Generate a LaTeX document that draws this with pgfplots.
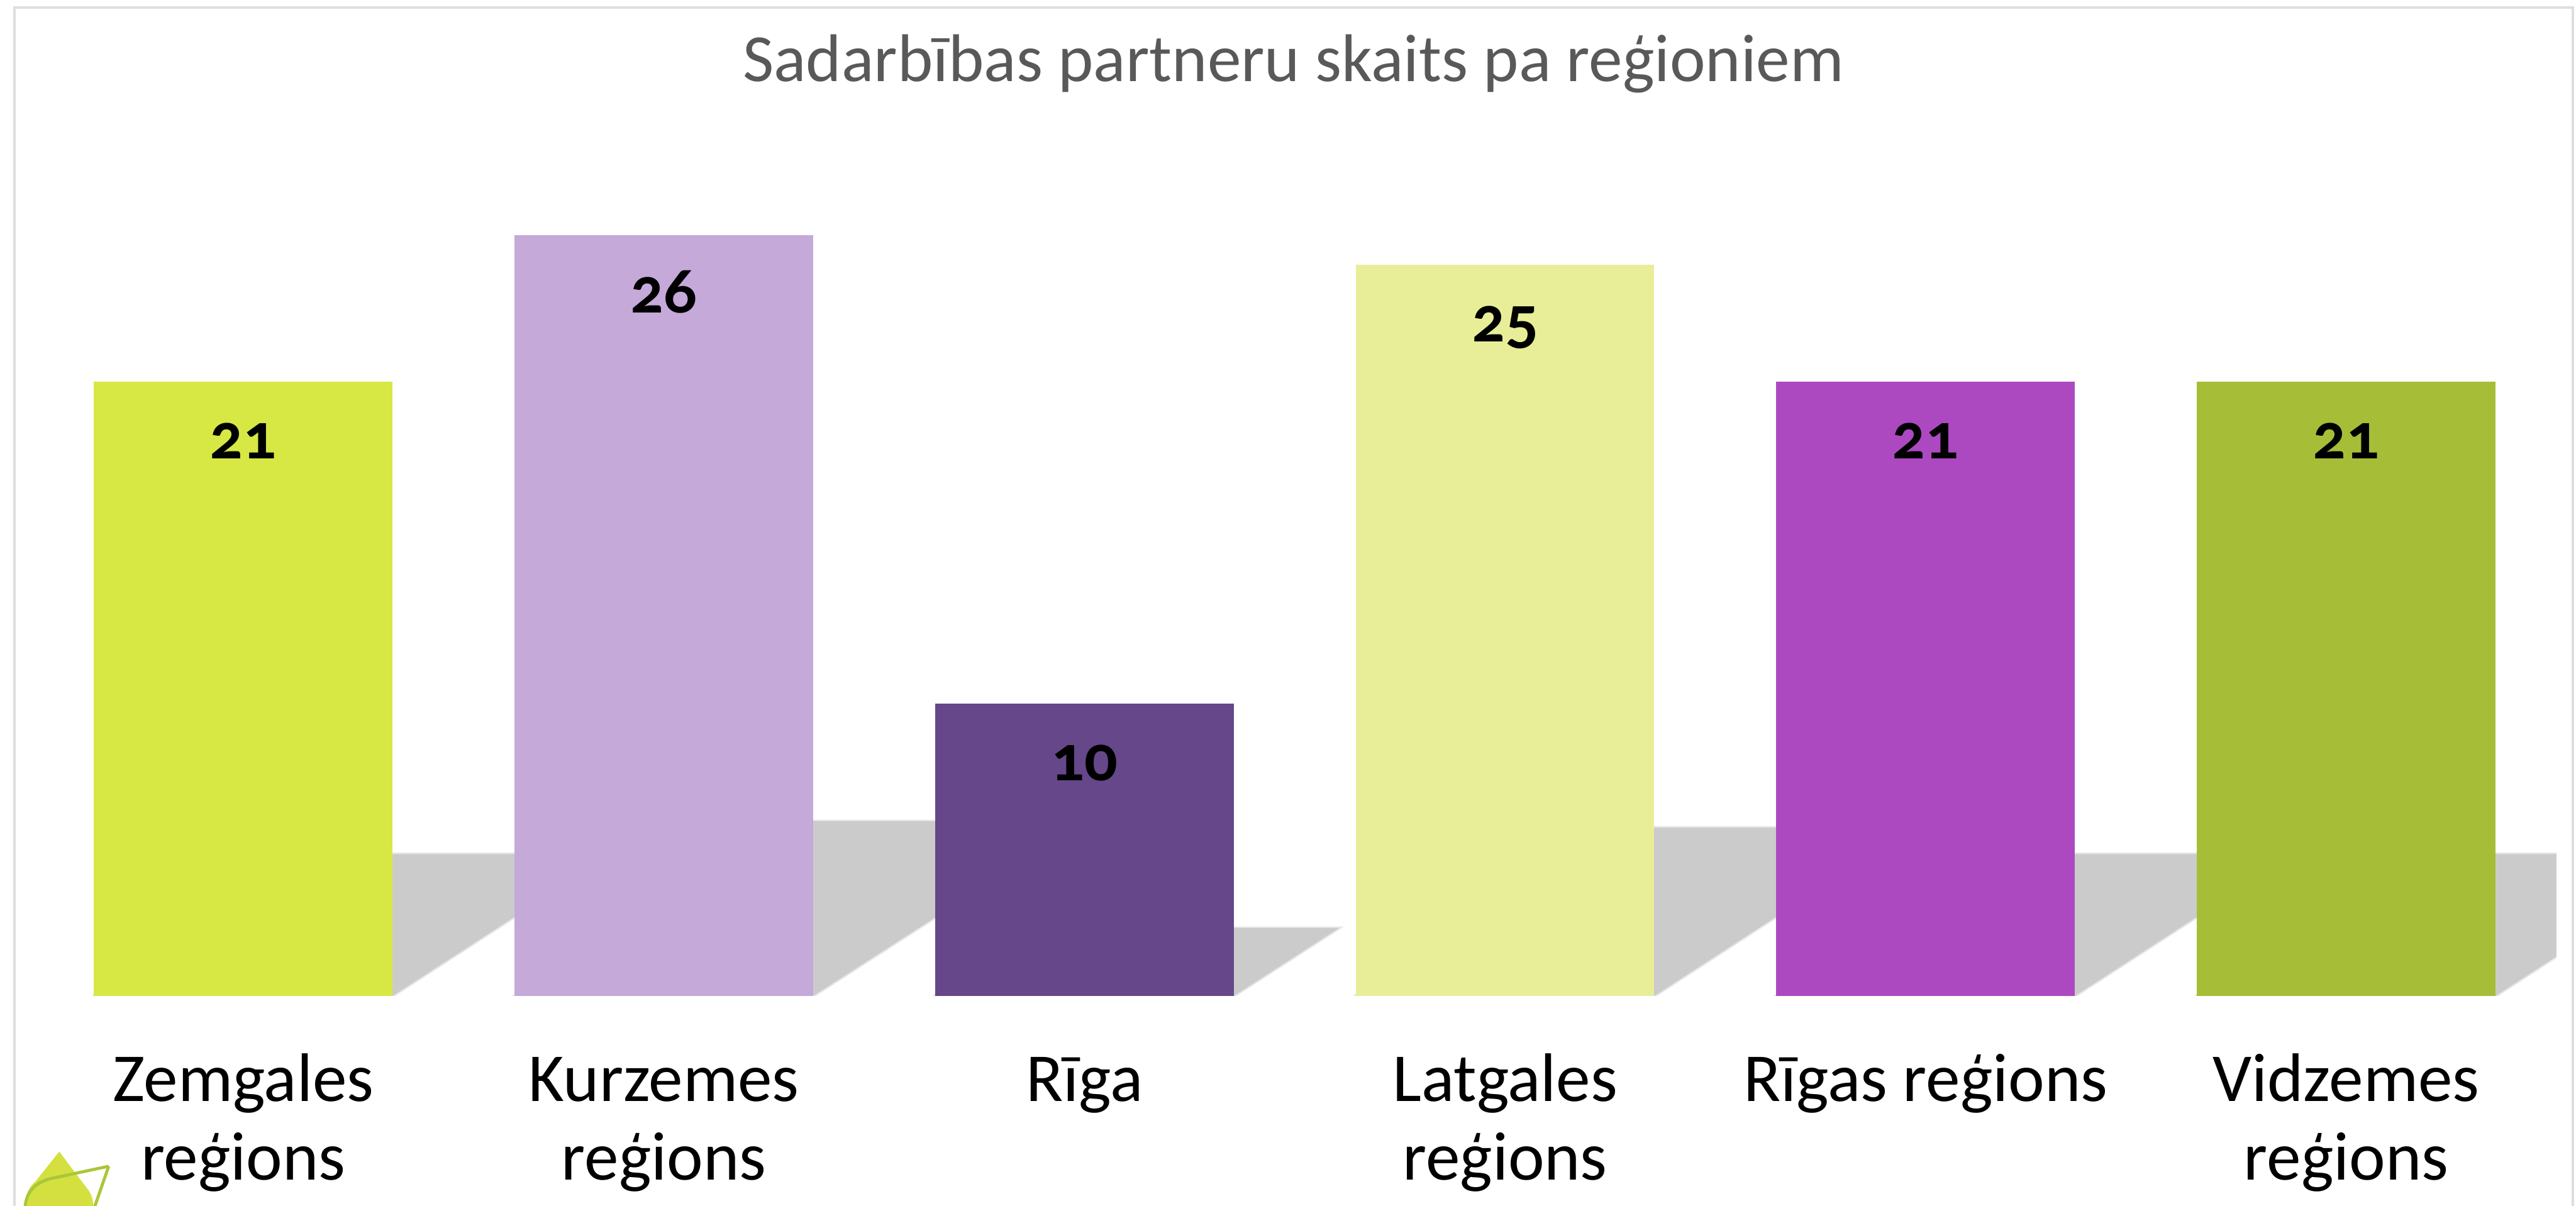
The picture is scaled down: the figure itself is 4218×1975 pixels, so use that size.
\documentclass[border=0pt]{standalone}
\usepackage{pgfplots}
\pgfplotsset{compat=1.18}
\usepackage{fontspec}
\setmainfont[Numbers=OldStyle]{Carlito}
\definecolor{c1}{HTML}{D7E845}
\definecolor{c2}{HTML}{C4A9D9}
\definecolor{c3}{HTML}{66478A}
\definecolor{c4}{HTML}{E8EE98}
\definecolor{c5}{HTML}{AC49C1}
\definecolor{c6}{HTML}{A6BE37}
\definecolor{sh}{HTML}{CBCBCB}
\definecolor{frame}{HTML}{DEDEDE}
\definecolor{titlec}{HTML}{595959}
\definecolor{leaf}{HTML}{D4E03F}
\definecolor{leafline}{HTML}{AAC63A}
\newlength{\U}\setlength{\U}{0.2pt}
\newcommand{\fl}{\rule{0pt}{16pt}}
\pgfplotsset{
  shadow/.style={fill=sh,draw=sh,draw opacity=.5,line width=5*\U},
  onebar/.style={ybar,bar width=489*\U,draw=none,bar shift=0pt,fill=#1,nodes near coords,
    nodes near coords style={anchor=base,yshift=-25.3pt,font=\fontsize{21.5}{24}\bfseries\selectfont,text=black}},
}
\begin{document}
\begin{tikzpicture}[x=\U,y=-\U]
\useasboundingbox (0,0) rectangle (4218,1975);
\begin{scope}
\clip (0,0) rectangle (4218,1975);
\draw[frame,line width=4*\U] (24,1985) -- (24,12) -- (4213,12) -- (4213,1985);
% leaf decoration
\fill[leaf] (97,1886) -- (58,1935) .. controls (46,1945) and (40,1960) .. (40,1985) -- (153,1985) -- (153,1975) .. controls (152,1962) and (148,1952) .. (143,1947) -- cycle;
\draw[leafline,line width=5*\U] (178,1910) -- (84,1930) .. controls (55,1937) and (40,1955) .. (41,1985);
\draw[leafline,line width=5*\U] (178,1910) -- (152,1985);
\end{scope}
\begin{axis}[
  at={(54*\U,-1631*\U)},anchor=south west,
  scale only axis,width=4132*\U,height=1437*\U,
  xmin=-0.5,xmax=5.5,ymin=0,ymax=30,
  axis line style={draw=none},
  ytick=\empty,
  xtick={0,1,2,3,4,5},
  xticklabels={{\fl Zemgales\\reģions},{\fl Kurzemes\\reģions},{\fl Rīga},{\fl Latgales\\reģions},{\fl Rīgas reģions},{\fl Vidzemes\\reģions}},
  x tick label style={align=center,anchor=north,yshift=-15pt,font=\fontsize{22.5}{25.8}\selectfont,text=black},
  major tick length=0pt,
  /pgf/number format/assume math mode=true,
  clip=true,
  ]
\addplot[shadow] coordinates {(-0.355,0)(0.355,0)(0.875,4.85)(0.165,4.85)} -- cycle;
\addplot[shadow] coordinates {(0.645,0)(1.355,0)(2.0,5.97)(1.29,5.97)} -- cycle;
\addplot[shadow] coordinates {(1.645,0)(2.355,0)(2.605,2.32)(1.895,2.32)} -- cycle;
\addplot[shadow] coordinates {(2.645,0)(3.355,0)(3.97,5.75)(3.26,5.75)} -- cycle;
\addplot[shadow] coordinates {(3.645,0)(4.355,0)(4.875,4.85)(4.165,4.85)} -- cycle;
\addplot[shadow] coordinates {(4.645,0)(5.355,0)(5.875,4.85)(5.165,4.85)} -- cycle;
\addplot[onebar=c1] coordinates {(0,21)};
\addplot[onebar=c2] coordinates {(1,26)};
\addplot[onebar=c3] coordinates {(2,10)};
\addplot[onebar=c4] coordinates {(3,25)};
\addplot[onebar=c5] coordinates {(4,21)};
\addplot[onebar=c6] coordinates {(5,21)};
\end{axis}
\node[anchor=center,text=titlec,font=\fontsize{22.1}{26}\selectfont] at (2118,104) {Sadarbības partneru skaits pa reģioniem};
\end{tikzpicture}
\end{document}
